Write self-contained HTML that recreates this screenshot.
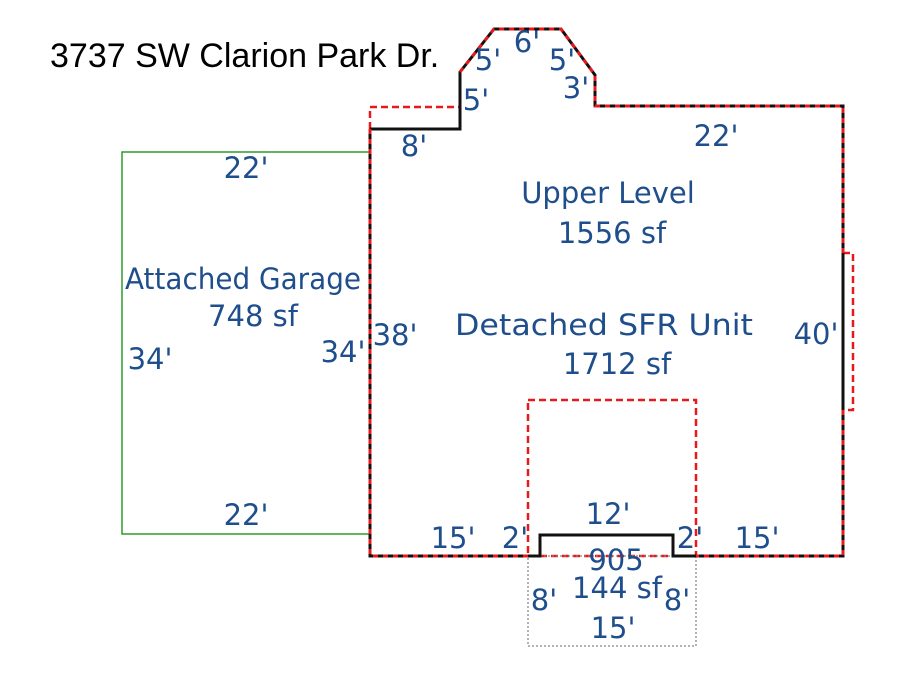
<!DOCTYPE html>
<html><head><style>body{margin:0;background:#fff}svg{display:block}</style></head><body>
<svg width="900" height="675" xmlns="http://www.w3.org/2000/svg">
<rect x="122" y="152" width="248" height="382" fill="none" stroke="#2e9a2e" stroke-width="1.5"/>
<polyline points="370,129 370,107 460,107" fill="none" stroke="#e8191a" stroke-width="2.5" stroke-dasharray="7,4"/>
<polyline points="843,253 853,253 853,410 843,410" fill="none" stroke="#e8191a" stroke-width="2.5" stroke-dasharray="7,4"/>
<rect x="528" y="400" width="168" height="156" fill="none" stroke="#e8191a" stroke-width="2.5" stroke-dasharray="7,4"/>
<rect x="528" y="556" width="168" height="90" fill="none" stroke="#888" stroke-width="1.3" stroke-dasharray="2,2"/>
<polyline points="370,129 460,129 460,72 494,29 561,29 595,75 595,106 843,106 843,556 673,556 673,535 540,535 540,556 370,556 370,129" fill="none" stroke="#111" stroke-width="3"/>
<polyline points="460,72 494,29 561,29 595,75 595,106 843,106 843,253" fill="none" stroke="#e8191a" stroke-width="3" stroke-dasharray="5,5"/>
<path d="M843,410 L843,556 L696,556 M528,556 L370,556 L370,129" fill="none" stroke="#e8191a" stroke-width="3" stroke-dasharray="5,5"/>
<text x="50" y="67" font-family="Liberation Sans, sans-serif" font-size="34" fill="#000">3737 SW Clarion Park Dr.</text>
<g font-family="DejaVu Sans, sans-serif" font-size="29" fill="#1f4e8c" text-anchor="middle">
<text x="488" y="70">5'</text><text x="527" y="52">6'</text><text x="562" y="70">5'</text>
<text x="576" y="98">3'</text><text x="476" y="110">5'</text><text x="414" y="156">8'</text>
<text x="716" y="146">22'</text><text x="246" y="178">22'</text>
<text x="608" y="203">Upper Level</text>
<text x="612" y="243">1556 sf</text>
<text x="243" y="289" textLength="236" lengthAdjust="spacingAndGlyphs">Attached Garage</text>
<text x="253" y="326">748 sf</text>
<text x="604" y="335" textLength="298" lengthAdjust="spacingAndGlyphs">Detached SFR Unit</text>
<text x="617" y="374">1712 sf</text>
<text x="150" y="369">34'</text><text x="343" y="362">34'</text><text x="395" y="345">38'</text>
<text x="816" y="344">40'</text><text x="246" y="525">22'</text>
<text x="608" y="524">12'</text><text x="453" y="548">15'</text><text x="515" y="548">2'</text>
<text x="690" y="548">2'</text><text x="757" y="548">15'</text>
<text x="616" y="570">905</text><text x="617" y="598">144 sf</text>
<text x="544" y="610">8'</text><text x="677" y="610">8'</text><text x="613" y="638">15'</text>
</g>
</svg>
</body></html>
